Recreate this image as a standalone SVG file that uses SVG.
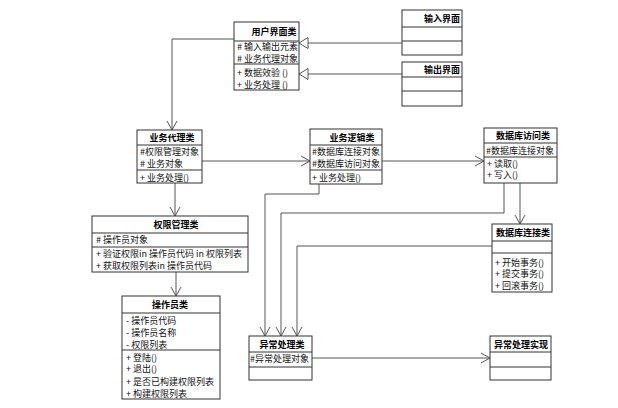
<svg xmlns="http://www.w3.org/2000/svg" width="618" height="408" viewBox="0 0 618 408">
<style>
.box{fill:#fff;stroke:#333;stroke-width:1}
.sep{stroke:#333;stroke-width:1}
.t{font-family:"Noto Sans CJK SC","Liberation Sans",sans-serif;font-size:9px;fill:#111}
.h{font-family:"Noto Sans CJK SC","Liberation Sans",sans-serif;font-size:9px;font-weight:bold;fill:#000;text-anchor:middle}
.c{fill:none;stroke:#555;stroke-width:1}
.tri{fill:#fff;stroke:#555;stroke-width:1}
</style>
<defs>
<marker id="open" markerUnits="userSpaceOnUse" markerWidth="12" markerHeight="12" viewBox="-10 -6 12 12" refX="0" refY="0" orient="auto">
<path d="M-9,-5 L0,0 L-9,5" fill="none" stroke="#555" stroke-width="1"/>
</marker>
</defs>
<rect width="618" height="408" fill="#fff"/>
<g id="connectors">
<line class="c" x1="402" y1="43" x2="308" y2="43"/>
<polygon class="tri" points="299,43 308,37.5 308,48.5"/>
<line class="c" x1="402" y1="74" x2="308" y2="74"/>
<polygon class="tri" points="299,74 308,68.5 308,79.5"/>
<polyline class="c" points="234,39 172,39 172,130" marker-end="url(#open)"/>
<line class="c" x1="202" y1="161" x2="310" y2="161" marker-end="url(#open)"/>
<line class="c" x1="382" y1="161" x2="484" y2="161" marker-end="url(#open)"/>
<line class="c" x1="175" y1="183" x2="175" y2="216" marker-end="url(#open)"/>
<line class="c" x1="176" y1="272" x2="176" y2="296" marker-end="url(#open)"/>
<line class="c" x1="520" y1="183" x2="520" y2="224" marker-end="url(#open)"/>
<polyline class="c" points="319,184 319,194 265,194 265,336" marker-end="url(#open)"/>
<polyline class="c" points="504,183 504,213 281,213 281,336" marker-end="url(#open)"/>
<polyline class="c" points="492,246 297,246 297,336" marker-end="url(#open)"/>
<line class="c" x1="312" y1="358" x2="490" y2="358" marker-end="url(#open)"/>
</g>
<g id="ui">
<rect class="box" x="234" y="22" width="65" height="68"/>
<line class="sep" x1="234" y1="41" x2="299" y2="41"/>
<line class="sep" x1="234" y1="64" x2="299" y2="64"/>
<text class="h" x="274" y="35">用户界面类</text>
<text class="t" x="237" y="50"># 输入输出元素</text>
<text class="t" x="237" y="62"># 业务代理对象</text>
<text class="t" x="237" y="75.5">+ 数据效验 ()</text>
<text class="t" x="237" y="87.5">+ 业务处理 ()</text>
</g>
<g id="input">
<rect class="box" x="402" y="10" width="60" height="45"/>
<line class="sep" x1="402" y1="27" x2="462" y2="27"/>
<line class="sep" x1="402" y1="41" x2="462" y2="41"/>
<text class="h" x="442" y="21.5">输入界面</text>
</g>
<g id="output">
<rect class="box" x="402" y="62" width="60" height="44"/>
<line class="sep" x1="402" y1="77" x2="462" y2="77"/>
<line class="sep" x1="402" y1="91" x2="462" y2="91"/>
<text class="h" x="442" y="73">输出界面</text>
</g>
<g id="proxy">
<rect class="box" x="137" y="130" width="65" height="53"/>
<line class="sep" x1="137" y1="145" x2="202" y2="145"/>
<line class="sep" x1="137" y1="170" x2="202" y2="170"/>
<text class="h" x="172" y="141">业务代理类</text>
<text class="t" x="140" y="154.5">#权限管理对象</text>
<text class="t" x="140" y="166.5"># 业务对象</text>
<text class="t" x="140" y="181">+ 业务处理()</text>
</g>
<g id="logic">
<rect class="box" x="310" y="129" width="72" height="55"/>
<line class="sep" x1="310" y1="145" x2="382" y2="145"/>
<line class="sep" x1="310" y1="170" x2="382" y2="170"/>
<text class="h" x="352" y="140.5">业务逻辑类</text>
<text class="t" x="312" y="154.5">#数据库连接对象</text>
<text class="t" x="312" y="166.5">#数据库访问对象</text>
<text class="t" x="312" y="181">+ 业务处理()</text>
</g>
<g id="dbaccess">
<rect class="box" x="484" y="128" width="73" height="55"/>
<line class="sep" x1="484" y1="143" x2="557" y2="143"/>
<line class="sep" x1="484" y1="157" x2="557" y2="157"/>
<text class="h" x="523" y="139">数据库访问类</text>
<text class="t" x="486" y="154">#数据库连接对象</text>
<text class="t" x="487" y="166.5">+ 读取()</text>
<text class="t" x="487" y="178">+ 写入()</text>
</g>
<g id="dbconn">
<rect class="box" x="492" y="224" width="60" height="68"/>
<line class="sep" x1="492" y1="241" x2="552" y2="241"/>
<line class="sep" x1="492" y1="253" x2="552" y2="253"/>
<text class="h" x="523" y="235.5">数据库连接类</text>
<text class="t" x="495" y="265.5">+ 开始事务()</text>
<text class="t" x="495" y="277">+ 提交事务()</text>
<text class="t" x="495" y="288.5">+ 回滚事务()</text>
</g>
<g id="auth">
<rect class="box" x="92" y="216" width="156" height="56"/>
<line class="sep" x1="92" y1="233" x2="248" y2="233"/>
<line class="sep" x1="92" y1="247" x2="248" y2="247"/>
<text class="h" x="176" y="227.5">权限管理类</text>
<text class="t" x="96" y="242.5"># 操作员对象</text>
<text class="t" x="96" y="256.5">+ 验证权限in 操作员代码 in 权限列表</text>
<text class="t" x="96" y="268.5">+ 获取权限列表in 操作员代码</text>
</g>
<g id="operator">
<rect class="box" x="122" y="296" width="98" height="103"/>
<line class="sep" x1="122" y1="313" x2="220" y2="313"/>
<line class="sep" x1="122" y1="350" x2="220" y2="350"/>
<text class="h" x="170" y="307.5">操作员类</text>
<text class="t" x="126" y="323.5">- 操作员代码</text>
<text class="t" x="126" y="335.5">- 操作员名称</text>
<text class="t" x="126" y="347.5">- 权限列表</text>
<text class="t" x="126" y="360.5">+ 登陆()</text>
<text class="t" x="126" y="372">+ 退出()</text>
<text class="t" x="126" y="384.5">+  是否已构建权限列表</text>
<text class="t" x="126" y="396.5">+ 构建权限列表</text>
</g>
<g id="exception">
<rect class="box" x="249" y="336" width="63" height="44"/>
<line class="sep" x1="249" y1="352" x2="312" y2="352"/>
<line class="sep" x1="249" y1="367" x2="312" y2="367"/>
<text class="h" x="282" y="347.5">异常处理类</text>
<text class="t" x="250" y="361.5">#异常处理对象</text>
</g>
<g id="exceptionimpl">
<rect class="box" x="490" y="336" width="61" height="44"/>
<line class="sep" x1="490" y1="352" x2="551" y2="352"/>
<line class="sep" x1="490" y1="367" x2="551" y2="367"/>
<text class="h" x="521" y="347.5">异常处理实现</text>
</g>
</svg>
